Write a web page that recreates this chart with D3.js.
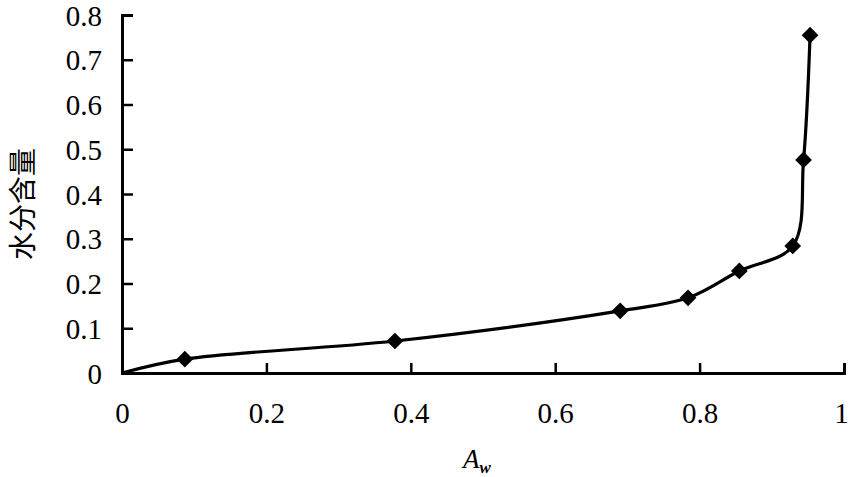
<!DOCTYPE html>
<html><head><meta charset="utf-8">
<script src="https://cdn.jsdelivr.net/npm/d3@7"></script>
<style>html,body{margin:0;padding:0;background:#fff;}</style>
</head><body><svg id="c" width="849" height="477"></svg>
<script>
const aw = [0, 0.087, 0.378, 0.690, 0.784, 0.855, 0.929, 0.944, 0.953];
const moisture = [0, 0.031, 0.0715, 0.139, 0.168, 0.228, 0.284, 0.476, 0.755];
const hasMarker = [false, true, true, true, true, true, true, true, true];
const xTicks = [0, 0.2, 0.4, 0.6, 0.8, 1];
const xTickLabels = ["0", "0.2", "0.4", "0.6", "0.8", "1"];
const yTicks = [0, 0.1, 0.2, 0.3, 0.4, 0.5, 0.6, 0.7, 0.8];
const yTickLabels = ["0", "0.1", "0.2", "0.3", "0.4", "0.5", "0.6", "0.7", "0.8"];
const yTitle = "水分含量";

const svg = d3.select("#c");
const m = {left: 122, right: 5, top: 15, bottom: 104};
const W = 849, H = 477;
const x = d3.scaleLinear().domain([0, 1]).range([m.left, W - m.right]);
const y = d3.scaleLinear().domain([0, 0.8]).range([H - m.bottom, m.top]);
const serif = "Liberation Serif";

const xAxis = d3.axisBottom(x).tickValues(xTicks).tickSize(-10).tickPadding(29)
  .tickFormat((d, i) => xTickLabels[i]);
const gx = svg.append("g").attr("transform", `translate(0,${y(0)})`).call(xAxis);
const yAxis = d3.axisLeft(y).tickValues(yTicks).tickSize(-11).tickPadding(20)
  .tickFormat((d, i) => yTickLabels[i]);
const gy = svg.append("g").attr("transform", `translate(${x(0)},0)`).call(yAxis);
[gx, gy].forEach(g => {
  g.attr("font-family", serif).attr("font-size", 29);
  g.select(".domain").attr("stroke", "#000").attr("stroke-width", 3);
  g.selectAll(".tick line").attr("stroke", "#000").attr("stroke-width", 2.5);
  g.selectAll(".tick text").attr("fill", "#000").attr("font-family", serif).attr("font-size", 29);
});
gy.selectAll(".tick text").attr("dy", "0.35em");
gx.selectAll(".tick text").filter(d => d === 1).attr("dx", -3);

const pts = aw.map((v, i) => ({x: v, y: moisture[i], mk: hasMarker[i]}));
const line = d3.line().x(d => x(d.x)).y(d => y(d.y)).curve(d3.curveCatmullRom.alpha(0.5));
svg.append("path").datum(pts).attr("d", line).attr("fill", "none")
  .attr("stroke", "#000").attr("stroke-width", 3.2);

svg.selectAll(".mk").data(pts.filter(d => d.mk)).enter().append("path")
  .attr("class", "mk")
  .attr("transform", d => `translate(${x(d.x)},${y(d.y)}) rotate(45)`)
  .attr("d", d3.symbol().type(d3.symbolSquare).size(140))
  .attr("fill", "#000");

svg.append("text").attr("transform", "translate(33,204) rotate(-90)")
  .attr("text-anchor", "middle")
  .attr("font-family", "Noto Sans CJK SC").attr("font-size", 28)
  .attr("fill", "#000").text(yTitle);

const xt = svg.append("text").attr("x", 477).attr("y", 468).attr("text-anchor", "middle")
  .attr("font-family", serif).attr("fill", "#000");
xt.append("tspan").attr("font-style", "italic").attr("font-size", 27).text("A");
xt.append("tspan").attr("font-style", "italic").attr("font-weight", "bold").attr("font-size", 17).attr("dy", 5).text("w");
</script></body></html>
